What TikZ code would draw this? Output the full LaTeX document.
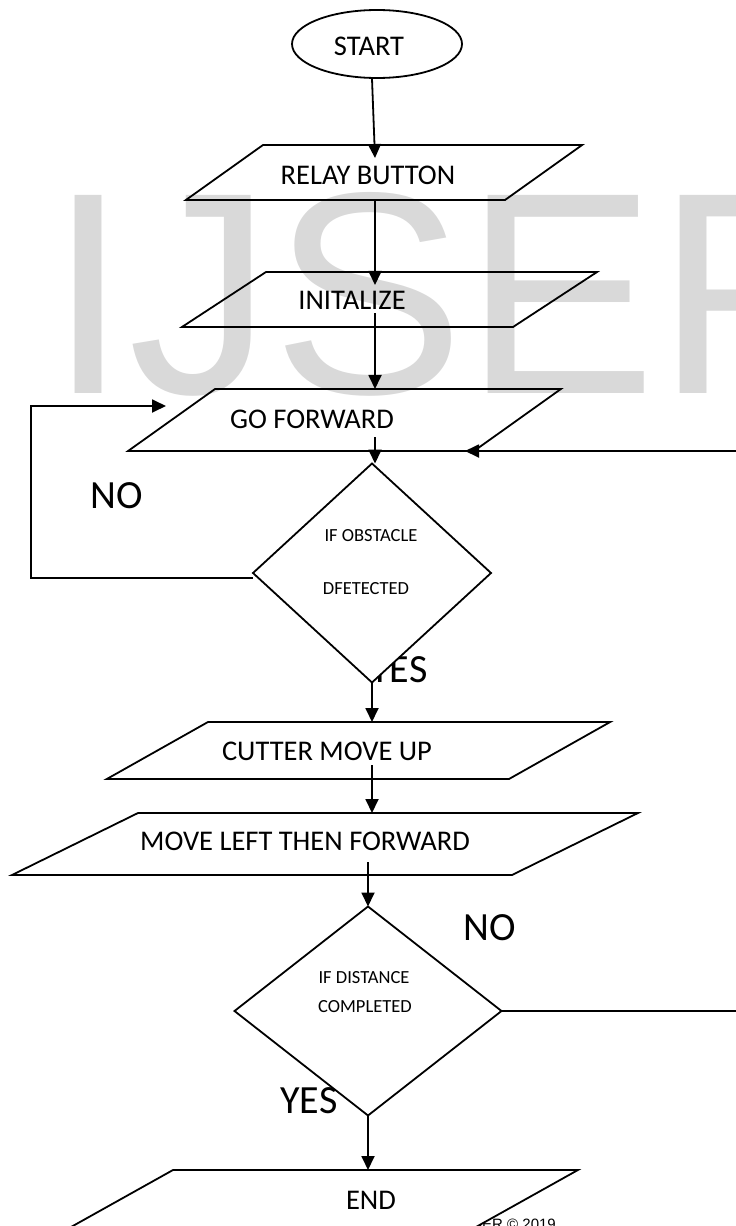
\documentclass[tikz,border=0pt]{standalone}
\usepackage{fontspec}
\setmainfont{Carlito}
\newfontfamily\arialfont{Liberation Sans}
\usetikzlibrary{shapes.geometric,arrows.meta,calc}

\tikzset{
  flow/.style={draw, line width=1.8pt, -{Triangle[length=14pt,width=13pt]}},
  io/.style={draw, line width=1.8pt, trapezium, outer sep=0pt},
  dec/.style={draw, line width=1.8pt, diamond, fill=white, inner sep=1pt, outer sep=0pt},
  txt/.style={font=\fontsize{28.5}{32}\selectfont, inner sep=0pt},
  smalltxt/.style={font=\fontsize{18.5}{22}\selectfont, inner sep=0pt},
  bigtxt/.style={font=\fontsize{40}{44}\selectfont, inner sep=0pt},
}

\begin{document}
\begin{tikzpicture}[x=1pt,y=-1pt]
\useasboundingbox (0,0) rectangle (736,1226);
\clip (0,0) rectangle (736,1226);

% watermark and footer
\node[anchor=base west, inner sep=0pt, text=black!15, font=\arialfont\fontsize{288}{288}\selectfont] (mark) at (48,393) {IJSER};
\node[anchor=base east, inner sep=0pt, font=\arialfont\fontsize{15}{18}\selectfont] (foot) at (556,1229) {IJSER © 2019};

% branch labels
\node[bigtxt] (yes1) at (399,670) {YES};
\node[bigtxt] (yes2) at (309,1101) {YES};
\node[bigtxt] (no1) at (117,496) {NO};
\node[bigtxt] (no2) at (490,928) {NO};

% shapes
\node[draw, line width=1.8pt, ellipse, minimum width=170pt, minimum height=68pt, inner sep=1pt] (start) at (377,44) {};
\node[io, trapezium left angle=35.5, trapezium right angle=144.5, inner xsep=121pt, inner ysep=27.5pt] (relay) at (384,172.5) {};
\node[io, trapezium left angle=33.2, trapezium right angle=146.8, inner xsep=123.5pt, inner ysep=27.5pt] (init) at (389.5,299.5) {};
\node[io, trapezium left angle=35.5, trapezium right angle=144.5, inner xsep=129.5pt, inner ysep=31pt] (go) at (344.5,420) {};
\node[dec, minimum width=238pt, minimum height=219pt] (dec1) at (372,573) {};
\node[io, trapezium left angle=29.4, trapezium right angle=150.6, inner xsep=150.5pt, inner ysep=28.5pt] (cutter) at (358.5,750.5) {};
\node[io, trapezium left angle=26.2, trapezium right angle=153.8, inner xsep=187pt, inner ysep=31pt] (move) at (325,844) {};
\node[dec, minimum width=267pt, minimum height=209pt] (dec2) at (368,1011) {};
\node[io, fill=white, trapezium left angle=29.2, trapezium right angle=150.8, inner xsep=147pt, inner ysep=31pt] (stop) at (320,1201) {};

% texts
\node[txt] (starttxt) at (369,46) {START};
\node[txt] (relaytxt) at (368,175) {RELAY BUTTON};
\node[txt] (inittxt) at (352,300) {INITALIZE};
\node[txt] (gotxt) at (312,419) {GO FORWARD};
\node[smalltxt] (obst1) at (371,536) {IF OBSTACLE};
\node[smalltxt] (obst2) at (366,589) {DFETECTED};
\node[txt] (cuttertxt) at (327,751) {CUTTER MOVE UP};
\node[txt] (movetxt) at (305,841) {MOVE LEFT THEN FORWARD};
\node[smalltxt] (dist1) at (364,978) {IF DISTANCE};
\node[smalltxt] (dist2) at (365,1007) {COMPLETED};
\node[txt] (stoptxt) at (371,1200) {END};

% connectors
\coordinate (axis) at (375,0);
\coordinate (noin) at (166,406);
\coordinate (goback) at (465,451);
\draw[flow] ([xshift=-5pt]start.south) -- ($(axis |- relay.north)+(0,13)$);
\draw[flow] (axis |- relay.south) -- ($(axis |- init.north)+(0,13)$);
\draw[flow] ($(axis |- init.south)+(0,-14)$) -- (axis |- go.north);
\draw[flow] ($(axis |- go.south)+(0,-14)$) -- (axis |- dec1.north);
\draw[flow] ([yshift=-5pt]dec1.west) -- ++(-222,0) |- (noin);
\draw[flow] (dec1.south) -- (dec1.south |- cutter.north);
\draw[flow] ($(dec1.south |- cutter.south)+(0,-14)$) -- (dec1.south |- move.north);
\draw[flow] ($(dec2.north |- move.south)+(0,-13)$) -- (dec2.north);
\draw[flow] (dec2.south) -- (dec2.south |- stop.north);
\draw[flow] (dec2.east) -- ++(300,0) |- (goback);
\end{tikzpicture}
\end{document}
